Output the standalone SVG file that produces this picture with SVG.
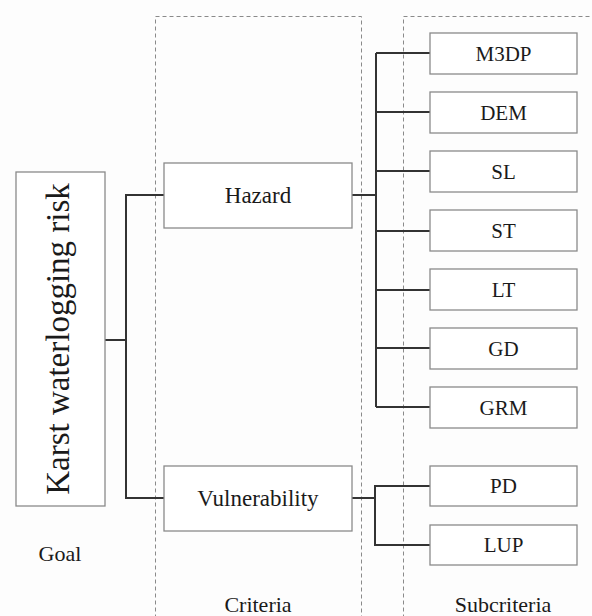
<svg xmlns="http://www.w3.org/2000/svg" width="592" height="616" viewBox="0 0 592 616">
  <style>
    .box { fill: #ffffff; stroke: #8a8a8a; stroke-width: 1.3; }
    .zone { fill: none; stroke: #8a8a8a; stroke-width: 1; stroke-dasharray: 4 3; }
    .link { fill: none; stroke: #333333; stroke-width: 2; }
    text { font-family: "Liberation Serif", "Times New Roman", serif; fill: #1a1a1a; text-anchor: middle; }
    .sub { font-size: 21px; }
    .crit { font-size: 23px; }
    .lbl { font-size: 22px; }
  </style>
  <rect width="592" height="616" fill="#fdfdfd"/>

  <!-- layer zones -->
  <g id="zones">
    <rect class="zone" x="155.5" y="16.5" width="206" height="620"/>
    <rect class="zone" x="403.5" y="16.5" width="220" height="620"/>
  </g>

  <!-- connectors -->
  <g id="connectors">
    <polyline class="link" points="105,340 126,340"/>
    <polyline class="link" points="164,195 126,195 126,498 164,498"/>
    <polyline class="link" points="352,195 376,195"/>
    <line class="link" x1="376" y1="53" x2="376" y2="407"/>
    <line class="link" x1="376" y1="53" x2="430" y2="53"/>
    <line class="link" x1="376" y1="112" x2="430" y2="112"/>
    <line class="link" x1="376" y1="171" x2="430" y2="171"/>
    <line class="link" x1="376" y1="231" x2="430" y2="231"/>
    <line class="link" x1="376" y1="290" x2="430" y2="290"/>
    <line class="link" x1="376" y1="348" x2="430" y2="348"/>
    <line class="link" x1="376" y1="407" x2="430" y2="407"/>
    <polyline class="link" points="352,498 375,498"/>
    <polyline class="link" points="430,486 375,486 375,545 430,545"/>
  </g>

  <!-- goal -->
  <g id="goal">
    <rect class="box" x="16" y="172" width="89" height="334"/>
    <text transform="translate(69,339) rotate(-90)" style="font-size:33px">Karst waterlogging risk</text>
  </g>

  <!-- criteria -->
  <g id="hazard">
    <rect class="box" x="164" y="163" width="188" height="65"/>
    <text class="crit" x="258" y="203">Hazard</text>
  </g>
  <g id="vulnerability">
    <rect class="box" x="164" y="466" width="188" height="65"/>
    <text class="crit" x="258" y="506">Vulnerability</text>
  </g>

  <!-- subcriteria -->
  <g id="m3dp">
    <rect class="box" x="430" y="33" width="147" height="41"/>
    <text class="sub" x="503.5" y="61">M3DP</text>
  </g>
  <g id="dem">
    <rect class="box" x="430" y="92" width="147" height="41"/>
    <text class="sub" x="503.5" y="120">DEM</text>
  </g>
  <g id="sl">
    <rect class="box" x="430" y="151" width="147" height="41"/>
    <text class="sub" x="503.5" y="179">SL</text>
  </g>
  <g id="st">
    <rect class="box" x="430" y="210" width="147" height="41"/>
    <text class="sub" x="503.5" y="238">ST</text>
  </g>
  <g id="lt">
    <rect class="box" x="430" y="269" width="147" height="41"/>
    <text class="sub" x="503.5" y="297">LT</text>
  </g>
  <g id="gd">
    <rect class="box" x="430" y="328" width="147" height="41"/>
    <text class="sub" x="503.5" y="356">GD</text>
  </g>
  <g id="grm">
    <rect class="box" x="430" y="387" width="147" height="41"/>
    <text class="sub" x="503.5" y="415">GRM</text>
  </g>
  <g id="pd">
    <rect class="box" x="430" y="466" width="147" height="40"/>
    <text class="sub" x="503.5" y="493">PD</text>
  </g>
  <g id="lup">
    <rect class="box" x="430" y="525" width="147" height="40"/>
    <text class="sub" x="503.5" y="552">LUP</text>
  </g>

  <!-- layer labels -->
  <g id="labels">
    <text class="lbl" x="60" y="561">Goal</text>
    <text class="lbl" x="258" y="612">Criteria</text>
    <text class="lbl" x="503" y="612">Subcriteria</text>
  </g>
</svg>
